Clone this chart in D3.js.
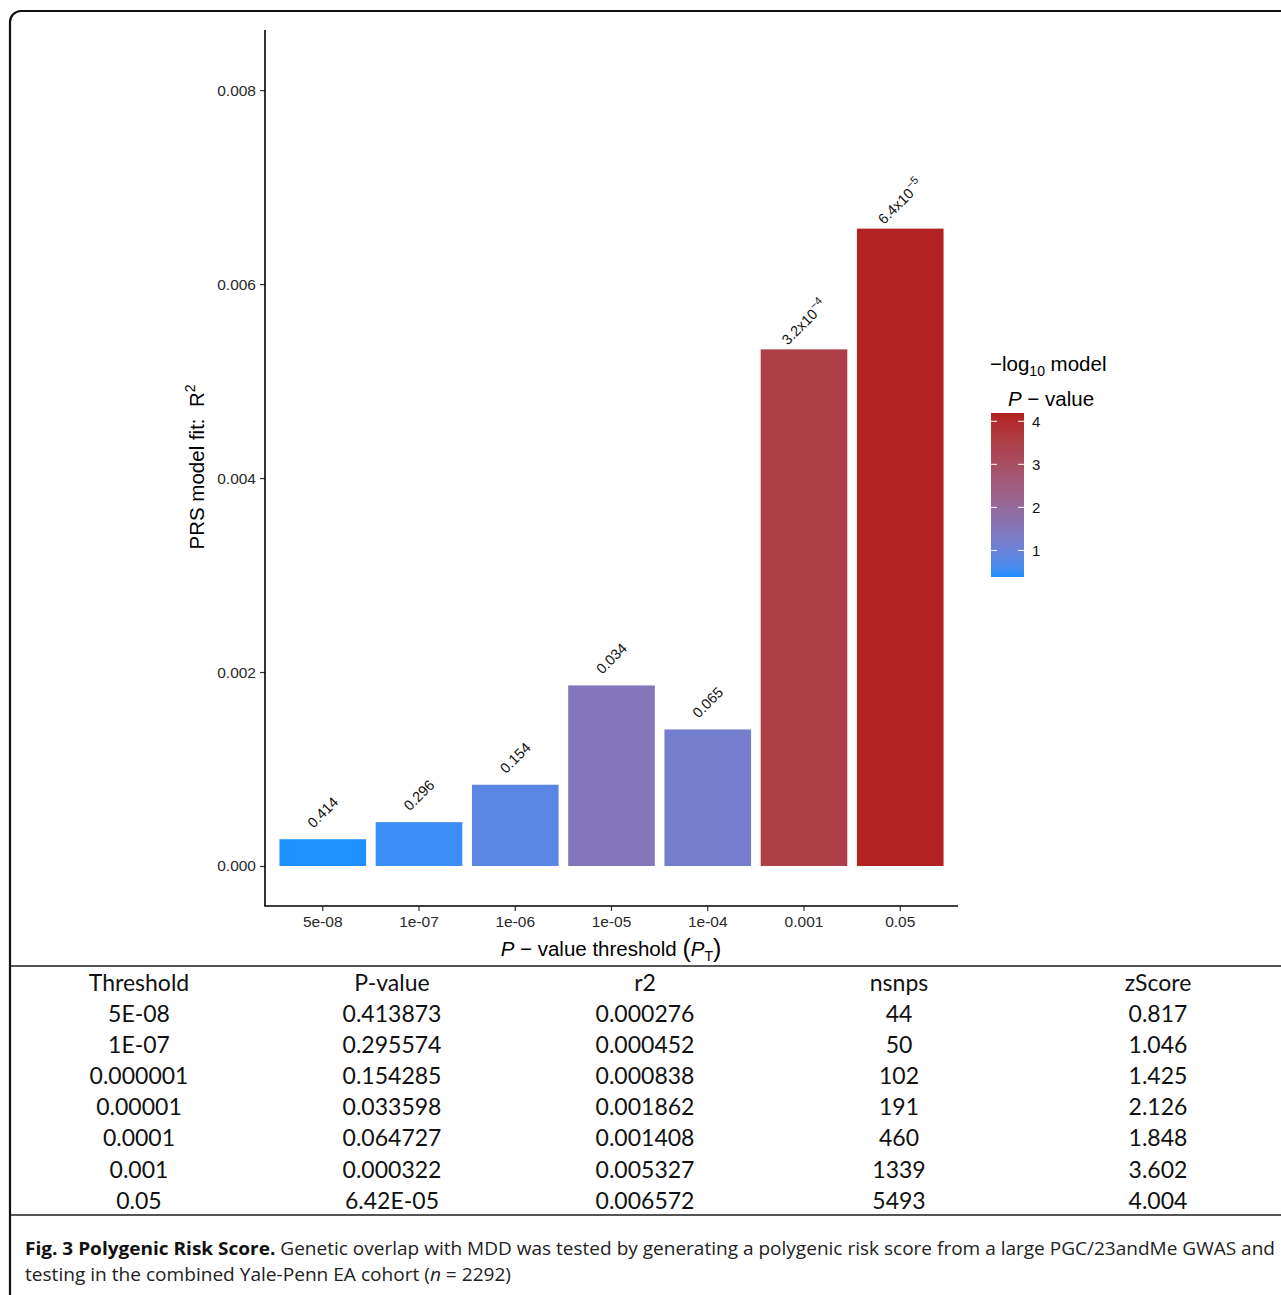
<!DOCTYPE html>
<html>
<head>
<meta charset="utf-8">
<script src="https://cdn.jsdelivr.net/npm/d3@7/dist/d3.min.js"></script>
<style>
  html, body { margin: 0; padding: 0; background: #fff; }
  svg { display: block; }
</style>
</head>
<body>
<svg id="fig" width="1281" height="1295"></svg>
<script>
// PRS results per P-value threshold
const thresholds = ["5e-08", "1e-07", "1e-06", "1e-05", "1e-04", "0.001", "0.05"];
const r2Values = [0.000276, 0.000452, 0.000838, 0.001862, 0.001408, 0.005327, 0.006572];
const modelP = [0.413873, 0.295574, 0.154285, 0.033598, 0.064727, 0.000322, 0.0000642];
const barLabels = [
  {base: "0.414"}, {base: "0.296"}, {base: "0.154"}, {base: "0.034"},
  {base: "0.065"}, {base: "3.2x10", exp: "\u22124"}, {base: "6.4x10", exp: "\u22125"}
];
const yTicks = [0, 0.002, 0.004, 0.006, 0.008];
const legendTicks = [1, 2, 3, 4];

// Summary table
const tableHeader = ["Threshold", "P-value", "r2", "nsnps", "zScore"];
const colThreshold = ["5E-08", "1E-07", "0.000001", "0.00001", "0.0001", "0.001", "0.05"];
const colPvalue = ["0.413873", "0.295574", "0.154285", "0.033598", "0.064727", "0.000322", "6.42E-05"];
const colR2 = ["0.000276", "0.000452", "0.000838", "0.001862", "0.001408", "0.005327", "0.006572"];
const colNsnps = ["44", "50", "102", "191", "460", "1339", "5493"];
const colZ = ["0.817", "1.046", "1.425", "2.126", "1.848", "3.602", "4.004"];

const svg = d3.select("#fig");
const axisFont = "'Liberation Sans', Arial, Helvetica, sans-serif";

// outer frame
svg.append("rect")
  .attr("x", 10).attr("y", 11)
  .attr("width", 1330).attr("height", 1300)
  .attr("rx", 11).attr("ry", 11)
  .attr("fill", "none").attr("stroke", "#111").attr("stroke-width", 2.2);

// ---- bar chart ----
const plot = {left: 265, right: 958, top: 30, bottom: 906};
const y = d3.scaleLinear().domain([0, 0.00862]).range([866, plot.top]);
const x = d3.scaleBand().domain(thresholds).range([plot.left, plot.right])
  .paddingInner(0.1).paddingOuter(0.15);

const negLogP = modelP.map(p => -Math.log10(p));
const cExtent = d3.extent(negLogP);
const color = d3.scaleLinear().domain(cExtent)
  .range(["#1E90FF", "#B22222"]).interpolate(d3.interpolateLab);

const bars = thresholds.map((t, i) => ({t, r2: r2Values[i], v: negLogP[i], lab: barLabels[i]}));

svg.append("g").selectAll("rect").data(bars).join("rect")
  .attr("x", d => x(d.t))
  .attr("y", d => y(d.r2))
  .attr("width", x.bandwidth())
  .attr("height", d => y(0) - y(d.r2))
  .attr("fill", d => color(d.v));

// rotated value labels
const labG = svg.append("g").attr("font-family", axisFont).attr("font-size", 14.5).attr("fill", "#111");
bars.forEach(d => {
  const cx = x(d.t) + x.bandwidth() / 2;
  const cy = y(d.r2) - 27;
  const t = labG.append("text")
    .attr("transform", `translate(${cx},${cy}) rotate(-45)`)
    .attr("text-anchor", "middle")
    .attr("dy", "0.35em");
  t.append("tspan").text(d.lab.base);
  if (d.lab.exp) {
    t.append("tspan").attr("dy", "-0.6em").attr("font-size", 11).text(d.lab.exp);
  }
});

// y axis
const yAxis = d3.axisLeft(y).tickValues(yTicks).tickFormat(d3.format(".3f")).tickSize(5).tickPadding(4);
const gy = svg.append("g").attr("transform", `translate(${plot.left},0)`).call(yAxis);
gy.select(".domain").remove();
gy.append("line").attr("x1", 0).attr("x2", 0).attr("y1", plot.top).attr("y2", plot.bottom)
  .attr("stroke", "#000").attr("stroke-width", 1.6);
gy.selectAll(".tick line").attr("stroke", "#333").attr("stroke-width", 1.2);
gy.selectAll(".tick text").attr("font-family", axisFont).attr("font-size", 15.5).attr("fill", "#2a2a2a");

// x axis
const xAxis = d3.axisBottom(x).tickSize(5).tickPadding(5);
const gx = svg.append("g").attr("transform", `translate(0,${plot.bottom})`).call(xAxis);
gx.select(".domain").remove();
gx.append("line").attr("x1", plot.left - 0.8).attr("x2", plot.right).attr("y1", 0).attr("y2", 0)
  .attr("stroke", "#000").attr("stroke-width", 1.6);
gx.selectAll(".tick line").attr("stroke", "#333").attr("stroke-width", 1.2);
gx.selectAll(".tick text").attr("font-family", axisFont).attr("font-size", 15.5).attr("fill", "#2a2a2a");

// axis titles
const xt = svg.append("text").attr("x", 611).attr("y", 956)
  .attr("text-anchor", "middle").attr("font-family", axisFont).attr("font-size", 20.5).attr("fill", "#000");
xt.append("tspan").attr("font-style", "italic").text("P");
xt.append("tspan").text(" \u2212 value threshold ");
xt.append("tspan").attr("font-size", 25).attr("dy", 1).text("(");
xt.append("tspan").attr("font-style", "italic").attr("dy", -1).text("P");
xt.append("tspan").attr("font-size", 14).attr("dy", 5).text("T");
xt.append("tspan").attr("font-size", 25).attr("dy", -4).text(")");

const yt = svg.append("text")
  .attr("transform", "translate(204,467) rotate(-90)")
  .attr("text-anchor", "middle").attr("font-family", axisFont).attr("font-size", 20.5).attr("fill", "#000");
yt.append("tspan").text("PRS model fit:\u00A0\u00A0R");
yt.append("tspan").attr("font-size", 14).attr("dy", -9).text("2");

// ---- colour legend ----
const leg = {x: 991, w: 33};
const ly = d3.scaleLinear().domain(cExtent).range([577, 413]);
const defs = svg.append("defs");
const grad = defs.append("linearGradient").attr("id", "cbar")
  .attr("x1", 0).attr("y1", 1).attr("x2", 0).attr("y2", 0);
d3.range(0, 1.0001, 0.05).forEach(t => {
  grad.append("stop").attr("offset", t)
    .attr("stop-color", color(cExtent[0] + t * (cExtent[1] - cExtent[0])));
});
svg.append("rect").attr("x", leg.x).attr("y", ly(cExtent[1]))
  .attr("width", leg.w).attr("height", ly(cExtent[0]) - ly(cExtent[1]))
  .attr("fill", "url(#cbar)");
const lt = svg.append("g").attr("font-family", axisFont).attr("font-size", 15).attr("fill", "#111");
legendTicks.forEach(v => {
  const yy = ly(v);
  lt.append("line").attr("x1", leg.x).attr("x2", leg.x + 6).attr("y1", yy).attr("y2", yy)
    .attr("stroke", "#fff").attr("stroke-width", 1);
  lt.append("line").attr("x1", leg.x + leg.w - 6).attr("x2", leg.x + leg.w).attr("y1", yy).attr("y2", yy)
    .attr("stroke", "#fff").attr("stroke-width", 1);
  lt.append("text").attr("x", leg.x + leg.w + 8).attr("y", yy).attr("dy", "0.36em").text(v);
});
const lt1 = svg.append("text").attr("x", 990).attr("y", 371)
  .attr("font-family", axisFont).attr("font-size", 20.5).attr("fill", "#000");
lt1.append("tspan").text("\u2212log");
lt1.append("tspan").attr("font-size", 14).attr("dy", 5).text("10");
lt1.append("tspan").attr("dy", -5).text(" model");
const lt2 = svg.append("text").attr("x", 1051).attr("y", 406).attr("text-anchor", "middle")
  .attr("font-family", axisFont).attr("font-size", 20.5).attr("fill", "#000");
lt2.append("tspan").attr("font-style", "italic").text("P");
lt2.append("tspan").text(" \u2212 value");

// ---- table ----
const tableFont = "Lato, 'Open Sans', sans-serif";
const colX = [139, 392, 645, 899, 1158];
const columns = [colThreshold, colPvalue, colR2, colNsnps, colZ];
svg.append("line").attr("x1", 11).attr("x2", 1281).attr("y1", 966).attr("y2", 966)
  .attr("stroke", "#555").attr("stroke-width", 2);
svg.append("line").attr("x1", 11).attr("x2", 1281).attr("y1", 1215).attr("y2", 1215)
  .attr("stroke", "#555").attr("stroke-width", 2);
const tg = svg.append("g").attr("font-family", tableFont).attr("font-size", 23)
  .attr("fill", "#111").attr("text-anchor", "middle");
tableHeader.forEach((h, j) => {
  tg.append("text").attr("x", colX[j]).attr("y", 991).text(h);
});
columns.forEach((col, j) => {
  col.forEach((v, i) => {
    tg.append("text").attr("x", colX[j]).attr("y", 1022 + i * 31.1).text(v);
  });
});

// ---- caption ----
const capFont = "'Open Sans', 'Noto Sans', sans-serif";
const c1 = svg.append("text").attr("x", 25).attr("y", 1255)
  .attr("font-family", capFont).attr("font-size", 18).attr("fill", "#222")
  .attr("textLength", 1250).attr("lengthAdjust", "spacingAndGlyphs");
c1.append("tspan").attr("font-weight", "bold").attr("fill", "#111").text("Fig. 3 Polygenic Risk Score.");
c1.append("tspan").text(" Genetic overlap with MDD was tested by generating a polygenic risk score from a large PGC/23andMe GWAS and");
const c2 = svg.append("text").attr("x", 25).attr("y", 1281)
  .attr("font-family", capFont).attr("font-size", 18).attr("fill", "#222")
  .attr("textLength", 486).attr("lengthAdjust", "spacingAndGlyphs");
c2.append("tspan").text("testing in the combined Yale-Penn EA cohort (");
c2.append("tspan").attr("font-style", "italic").text("n");
c2.append("tspan").text(" = 2292)");
</script>
</body>
</html>
